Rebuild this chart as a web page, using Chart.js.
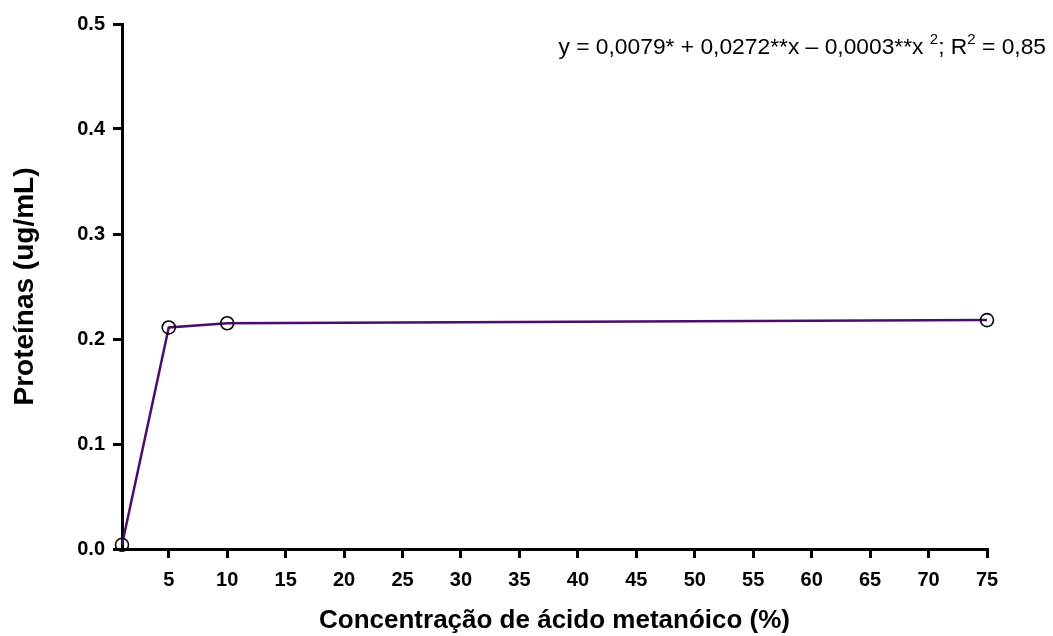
<!DOCTYPE html>
<html>
<head>
<meta charset="utf-8">
<script src="https://cdn.jsdelivr.net/npm/chart.js@4/dist/chart.umd.min.js"></script>
<style>
  body { margin: 0; background: #fff; }
  canvas { display: block; }
</style>
</head>
<body>
<canvas id="chart" width="1053" height="636"></canvas>
<script>
// dados
const concentracoes = [1, 5, 10, 75];
const proteinas = [0.004, 0.211, 0.215, 0.218];
const xTicks = [5, 10, 15, 20, 25, 30, 35, 40, 45, 50, 55, 60, 65, 70, 75];
const yTicks = [0.0, 0.1, 0.2, 0.3, 0.4, 0.5];

const equacao = [
    { t: 'y = 0,0079* + 0,0272**x \u2013 0,0003**x ', sup: false },
    { t: '2', sup: true },
    { t: '; R', sup: false },
    { t: '2', sup: true },
    { t: ' = 0,85', sup: false }
];

const eqPlugin = {
    id: 'equacao',
    afterDraw(chart) {
        const ctx = chart.ctx;
        ctx.save();
        ctx.fillStyle = '#000';
        ctx.textBaseline = 'alphabetic';
        const normal = '22.8px "Liberation Sans", Arial, sans-serif';
        const small = '15px "Liberation Sans", Arial, sans-serif';
        let total = 0;
        equacao.forEach(p => {
            ctx.font = p.sup ? small : normal;
            total += ctx.measureText(p.t).width;
        });
        let x = 1046 - total;
        const y = 54;
        equacao.forEach(p => {
            ctx.font = p.sup ? small : normal;
            ctx.fillText(p.t, x, p.sup ? y - 10 : y);
            x += ctx.measureText(p.t).width;
        });
        ctx.restore();
    }
};

const tickFont = { family: '"Liberation Sans", Arial, sans-serif', size: 20, weight: 'bold' };

new Chart(document.getElementById('chart'), {
    type: 'line',
    data: {
        datasets: [{
            data: concentracoes.map((c, i) => ({ x: c, y: proteinas[i] })),
            borderColor: '#4b0c6b',
            borderWidth: 2.5,
            pointRadius: 6.5,
            pointBorderColor: '#000',
            pointBorderWidth: 1.6,
            pointBackgroundColor: 'rgba(0,0,0,0)',
            tension: 0,
            clip: false
        }]
    },
    options: {
        responsive: false,
        animation: false,
        layout: { padding: { top: 24, right: 66, left: 0, bottom: 0 } },
        plugins: { legend: { display: false }, tooltip: { enabled: false } },
        scales: {
            x: {
                type: 'linear',
                min: 1,
                max: 75,
                afterBuildTicks: s => { s.ticks = xTicks.map(v => ({ value: v })); },
                afterFit: s => { s.height = 87; },
                border: { color: '#000', width: 3 },
                grid: { drawOnChartArea: false, drawTicks: true, tickLength: 9, color: '#000', lineWidth: 3 },
                ticks: { color: '#000', font: tickFont, padding: 10, maxRotation: 0 },
                title: {
                    display: true,
                    text: 'Concentração de ácido metanóico (%)',
                    color: '#000',
                    font: { family: '"Liberation Sans", Arial, sans-serif', size: 26, weight: 'bold' },
                    padding: { top: 0, bottom: 0 }
                }
            },
            y: {
                min: 0,
                max: 0.5,
                afterBuildTicks: s => { s.ticks = yTicks.map(v => ({ value: v })); },
                afterFit: s => { s.width = 122; },
                border: { color: '#000', width: 3 },
                grid: { drawOnChartArea: false, drawTicks: true, tickLength: 9, color: '#000', lineWidth: 3 },
                ticks: { color: '#000', font: tickFont, padding: 8, callback: v => v.toFixed(1) },
                title: {
                    display: true,
                    text: 'Proteínas (ug/mL)',
                    color: '#000',
                    font: { family: '"Liberation Sans", Arial, sans-serif', size: 28, weight: 'bold' },
                    padding: { top: 8, bottom: 0 }
                }
            }
        }
    },
    plugins: [eqPlugin]
});
</script>
</body>
</html>
